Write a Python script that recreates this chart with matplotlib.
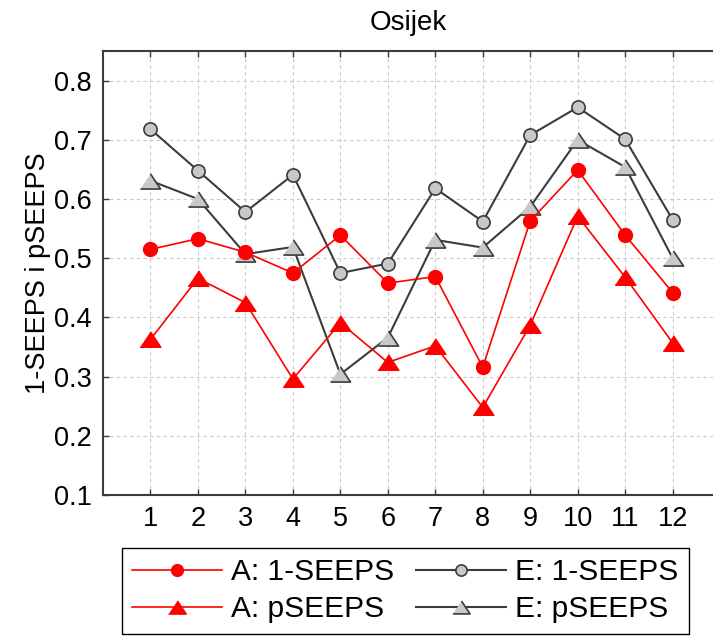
import matplotlib
matplotlib.use('Agg')
import matplotlib.pyplot as plt
import numpy as np

plt.rcParams['font.family'] = ['Liberation Sans', 'DejaVu Sans']

months = [1, 2, 3, 4, 5, 6, 7, 8, 9, 10, 11, 12]
a_seeps = [0.515, 0.533, 0.510, 0.475, 0.539, 0.458, 0.469, 0.316, 0.563, 0.649, 0.539, 0.442]
a_pseeps = [0.363, 0.466, 0.425, 0.296, 0.391, 0.324, 0.352, 0.248, 0.387, 0.571, 0.468, 0.357]
e_seeps = [0.718, 0.648, 0.578, 0.641, 0.475, 0.491, 0.618, 0.562, 0.708, 0.755, 0.701, 0.565]
e_pseeps = [0.631, 0.600, 0.507, 0.519, 0.304, 0.366, 0.531, 0.518, 0.587, 0.700, 0.654, 0.500]
yticks = [0.1, 0.2, 0.3, 0.4, 0.5, 0.6, 0.7, 0.8]

# wide, flat triangle like the original
tri = [(-1, -0.75), (1, -0.75), (0, 0.75)]
dark = '#3c3c3c'
light = '#c8c8c8'

fig = plt.figure(figsize=(7.13, 6.38), dpi=100)
ax = fig.add_axes([0.1445, 0.2241, 0.8555, 0.6959])

ax.plot(months, e_seeps, color=dark, lw=1.5, marker='o', ms=9.5,
        mfc=light, mec=dark, mew=1.2, label='E: 1-SEEPS', zorder=3)
ax.plot(months, e_pseeps, color=dark, lw=1.5, marker=tri, ms=14.5,
        mfc=light, mec=dark, mew=1.2, label='E: pSEEPS', zorder=3)
ax.plot(months, a_seeps, color='red', lw=1.2, marker='o', ms=10,
        mfc='red', mec='red', label='A: 1-SEEPS', zorder=4)
ax.plot(months, a_pseeps, color='red', lw=1.2, marker=tri, ms=15,
        mfc='red', mec='red', label='A: pSEEPS', zorder=4)

ax.set_xlim(0.0, 12.85)
ax.set_ylim(0.1, 0.85)
ax.set_xticks(months)
ax.set_yticks(yticks)
ax.set_yticklabels(['%.1f' % v for v in yticks])
ax.grid(True, color=light, lw=0.8, ls=(0, (3, 3)))
ax.set_axisbelow(True)

for s in ['left', 'top', 'bottom']:
    ax.spines[s].set_color(dark)
    ax.spines[s].set_linewidth(1.5)
ax.spines['right'].set_visible(False)
ax.tick_params(direction='in', length=4.5, width=1, color=dark, top=True,
               labelsize=19.5, pad=8)
ax.tick_params(axis='y', pad=8)

ax.set_title('Osijek', fontsize=20, pad=15)
ax.set_ylabel('1-SEEPS i pSEEPS', fontsize=19.5, labelpad=2)

h, l = ax.get_legend_handles_labels()
order = [2, 3, 0, 1]
leg = fig.legend([h[i] for i in order], [l[i] for i in order], ncol=2,
                 loc='upper left', bbox_to_anchor=(0.171, 0.141), borderaxespad=0,
                 fontsize=21.5, handlelength=3.0, handletextpad=0.3,
                 columnspacing=0.75, labelspacing=0.3, borderpad=0.35,
                 fancybox=False, framealpha=1, edgecolor='black', markerscale=0.85)
leg.get_frame().set_linewidth(1.0)

fig.savefig('out.png', dpi=100)
